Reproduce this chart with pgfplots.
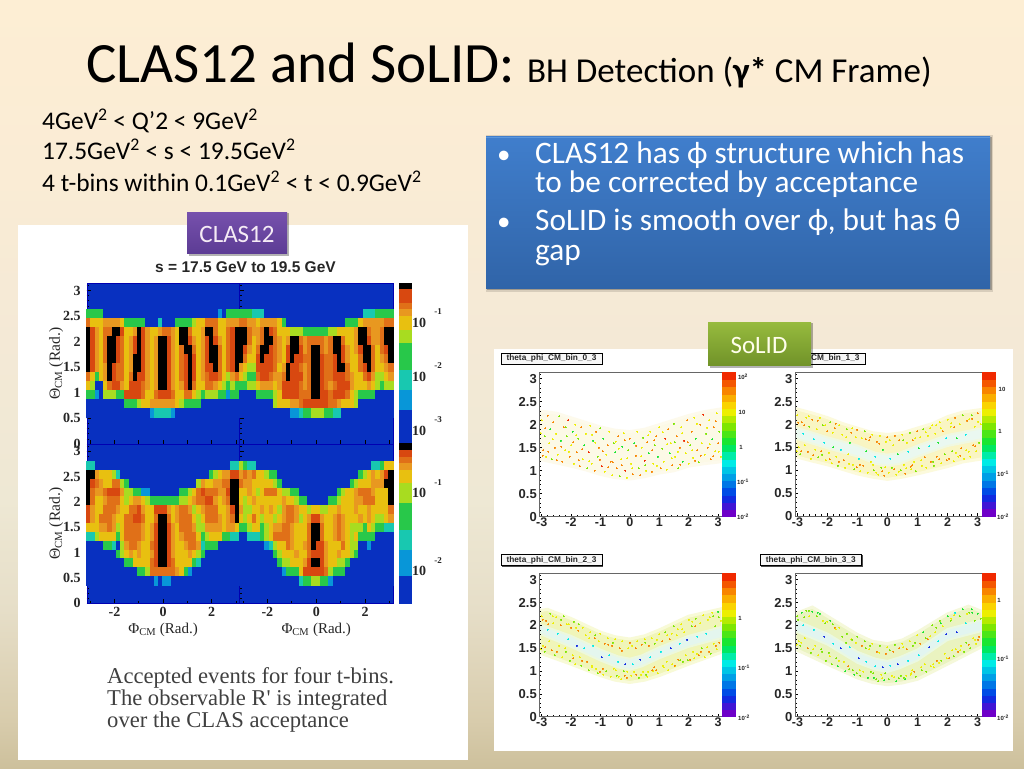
\documentclass[border=0pt]{standalone}
\usepackage{fontspec}
\usepackage{pgfplots}
\usepackage{pgfplotstable}
\pgfplotsset{compat=1.18}
\setmainfont{Carlito}
\newfontfamily\serf{Liberation Serif}
\newfontfamily\rootf{Liberation Sans}
\newcommand\fs[1]{\fontsize{#1}{#1}\selectfont}
\definecolor{clasblue}{RGB}{8,48,192}
\pgfdeclareverticalshading{slidebg}{100bp}{rgb(0bp)=(0.804,0.753,0.612); rgb(25bp)=(0.804,0.753,0.612); rgb(28.1bp)=(0.847,0.800,0.675); rgb(35.3bp)=(0.902,0.871,0.784); rgb(42.4bp)=(0.933,0.910,0.831); rgb(52.9bp)=(0.957,0.914,0.839); rgb(63.3bp)=(0.980,0.925,0.835); rgb(75bp)=(0.992,0.933,0.831); rgb(100bp)=(0.992,0.933,0.831)}
\pgfplotsset{
 colormap={clas}{rgb255=(8,48,192) rgb255=(8,150,216) rgb255=(24,200,176) rgb255=(40,200,74) rgb255=(168,220,32) rgb255=(232,192,16) rgb255=(232,152,32) rgb255=(224,112,24) rgb255=(216,72,16) rgb255=(0,0,0)},
 colormap={rootc}{rgb255=(110,0,200) rgb255=(0,50,230) rgb255=(0,150,230) rgb255=(0,240,230) rgb255=(0,230,60) rgb255=(120,230,0) rgb255=(250,240,0) rgb255=(250,150,0) rgb255=(240,40,0)},
 clasaxis/.style={scale only axis, axis on top, colormap name=clas, point meta min=0, point meta max=9,
   xmin=-3.1416,xmax=3.1416,ymin=0,ymax=3.1416, axis background/.style={fill=clasblue},
   axis line style={draw=black!30!blue, line width=0.4pt},
   tick style={black, line width=0.7pt}, major tick length=4pt, minor tick length=2pt,
   ytick={0,0.5,1,1.5,2,2.5,3}, minor ytick={0.1,0.2,...,3.1},
   xtick={-3,-2,-1,0,1,2,3}, minor xtick={},
   tick align=inside, xtick pos=bottom, ytick pos=left,
   ticklabel style={font=\serf\bfseries\fs{14}, text=black!85},
   yticklabel style={xshift=-2.5pt},
   xticklabels={}, yticklabels={},
   xlabel style={font=\serf\fs{15}, text=black!85},
   clip marker paths=false},
 clasy/.style={ylabel={Θ\textsubscript{CM} (Rad.)},
   every axis y label/.style={at={(axis description cs:-0.2,0.5)},rotate=90,anchor=center,font=\serf\fs{15.5},text=black!85}},
 heat/.style={scatter, only marks, mark=square*, mark size=2.25pt, point meta=explicit,
   mark options={yscale=2.05, line width=0pt},
   scatter/use mapped color={draw=mapped color,fill=mapped color}},
 cbar/.style={scale only axis, axis on top, xmin=0,xmax=1,ymin=0,axis x line=none, axis y line=none, clip=true},
 barm/.style={scatter, only marks, mark=square*, point meta=explicit,
   scatter/use mapped color={draw=mapped color,fill=mapped color}},
 solid/.style={scale only axis, axis on top, colormap name=rootc, point meta min=0, point meta max=19,
   xmin=-3.08,xmax=3.16,ymin=0,ymax=3.14,
   xtick={-3,-2,-1,0,1,2,3}, xticklabels={-3,-2,-1,0,1,2,3},
   ytick={0,0.5,1,1.5,2,2.5,3}, yticklabels={0,0.5,1,1.5,2,2.5,3},
   minor xtick={-2.8,-2.6,...,3}, minor ytick={0.1,0.2,...,3.1},
   tick align=inside, xtick pos=bottom, ytick pos=left,
   tick style={black, line width=0.5pt}, major tick length=3pt, minor tick length=1.5pt,
   axis line style={draw=black!60, line width=0.5pt},
   xticklabel style={font=\rootf\bfseries\fs{12.5}, text=black!85, yshift=2pt},
   yticklabel style={font=\rootf\bfseries\fs{13}, text=black!85, xshift=1pt}},
 dots/.style={scatter, only marks, mark=*, mark size=0.5pt, point meta=explicit,
   mark options={line width=0pt, opacity=0.7},
   scatter/use mapped color={draw=mapped color,fill=mapped color}},
}
\newcommand\heatmap[1]{\pgfplotsinvokeforeach{1,...,36}{\addplot[heat] table[x expr={-3.1416+(##1-0.5)*0.174533}, y index=0, meta index=##1]{#1};}}
% CLAS12 acceptance cells: theta, then 36 phi bins (colour level 0-9)
\pgfplotstableread[header=false]{
2.531 3 3 3 3 0 0 0 0 0 0 0 0 0 0 0 0 0 0 0 0 0 0 0 0 0 0 0 0 0 0 0 1 0 3 3 3
2.356 7 5 5 5 6 6 6 6 5 3 3 3 3 3 0 0 0 2 0 0 0 3 3 3 3 4 5 5 7 7 7 5 5 6 6 6
2.182 9 8 6 5 7 7 9 9 8 5 5 6 9 8 6 5 5 6 7 7 6 5 9 9 7 5 5 6 9 9 7 5 5 7 8 9
2.007 9 8 6 5 7 9 9 8 7 5 6 8 9 8 6 5 6 9 9 8 6 5 9 9 8 6 5 6 8 9 8 6 5 7 8 9
1.833 9 8 6 5 7 9 9 8 7 5 6 8 9 8 6 5 6 9 9 8 6 5 7 9 9 7 5 6 8 9 9 7 5 7 8 9
1.658 9 8 6 5 7 9 9 8 7 5 6 9 9 8 6 5 6 9 9 8 6 5 7 8 9 8 5 6 8 9 9 7 5 7 8 9
1.484 9 8 6 5 6 9 8 7 7 5 6 9 9 8 6 5 6 9 9 8 6 5 7 8 9 8 5 6 8 8 9 7 5 7 8 9
1.309 7 5 3 5 6 9 8 7 7 5 7 9 8 8 6 5 6 9 9 8 6 5 7 8 9 8 5 6 7 8 8 7 5 4 6 7
1.134 5 4 0 0 5 7 8 8 6 5 8 8 8 7 6 5 6 9 9 8 6 5 6 8 9 7 5 5 7 7 6 5 4 3 4 3
0.960 3 3 1 0 4 4 4 3 3 8 8 8 8 7 5 5 7 8 8 8 7 5 5 7 7 5 4 3 4 4 4 3 3 1 3 3
0.785 0 0 0 0 0 0 0 0 0 3 3 3 4 5 5 6 6 6 6 6 6 5 4 3 3 3 3 0 0 0 0 0 0 0 0 0
0.611 0 0 0 0 0 0 0 0 0 0 0 0 0 0 0 1 2 2 2 2 1 0 0 0 0 0 0 0 0 0 0 0 0 0 0 0
}\dataUL
\pgfplotstableread[header=false]{
2.531 3 3 3 2 2 2 0 0 0 0 0 0 0 0 0 0 0 0 0 0 0 0 0 0 0 0 0 0 0 2 2 2 3 3 3 3
2.356 7 7 6 6 5 6 6 6 6 5 3 0 0 0 0 0 0 0 0 0 0 0 0 0 0 3 3 3 5 6 6 6 6 6 7 7
2.182 9 9 7 6 6 7 9 8 7 5 5 5 4 4 4 3 3 3 3 3 3 4 4 5 5 5 5 6 9 9 7 6 6 7 9 9
2.007 9 9 7 5 6 7 9 9 7 6 5 6 9 9 7 6 7 7 7 7 6 7 9 9 7 5 5 6 9 9 8 6 6 7 9 9
1.833 9 8 6 5 7 9 9 8 7 6 5 8 9 9 8 6 7 9 9 7 6 7 9 9 8 6 5 6 8 9 9 7 5 7 8 9
1.658 9 7 5 5 8 9 8 8 7 6 5 8 9 8 8 7 7 9 9 8 7 7 8 9 8 6 5 5 7 9 9 7 5 6 7 9
1.484 6 5 4 4 8 8 8 8 7 5 6 9 8 8 7 6 7 9 9 8 7 7 8 9 9 7 5 5 7 8 9 7 5 5 6 7
1.309 5 4 3 3 7 8 8 7 6 6 7 9 8 8 8 6 7 9 9 8 7 7 8 8 8 7 6 5 5 7 8 6 4 4 5 6
1.134 3 3 4 4 5 6 6 6 5 6 8 8 8 8 7 6 7 9 9 8 7 6 7 8 8 8 6 5 5 5 6 5 4 3 4 4
0.960 0 0 0 0 3 3 3 3 4 5 8 8 8 8 7 7 7 9 9 8 8 7 8 8 8 7 5 4 3 3 3 3 0 0 0 0
0.785 0 0 0 0 0 0 0 0 4 5 5 5 6 6 7 8 8 8 8 8 8 7 7 6 5 5 5 4 0 0 0 0 0 0 0 0
0.611 0 0 0 0 0 0 0 0 0 0 0 0 1 1 2 3 3 4 4 4 3 3 2 2 0 0 0 0 0 0 0 0 0 0 0 0
}\dataUR
\pgfplotstableread[header=false]{
2.705 2 2 0 0 0 0 0 0 0 0 0 0 0 0 0 0 0 0 0 0 0 0 0 0 0 0 0 0 0 0 0 0 0 0 2 2
2.531 9 9 6 5 5 5 4 2 0 0 0 0 0 0 0 0 0 0 0 0 0 0 0 0 0 0 0 0 0 3 4 5 6 6 8 8
2.356 9 8 7 6 5 5 7 7 4 3 0 0 0 0 0 0 0 0 0 0 0 0 0 0 0 0 4 6 5 5 6 6 7 7 9 9
2.182 9 7 6 6 7 8 8 8 6 4 4 3 3 1 1 0 0 0 0 0 0 0 3 3 4 5 7 8 7 7 7 6 6 8 9 9
2.007 9 7 5 5 6 7 7 7 5 4 5 6 6 5 4 3 3 3 3 3 3 3 4 4 5 6 7 7 8 8 6 5 6 7 9 9
1.833 8 6 5 5 7 7 7 6 5 5 7 7 8 6 5 5 8 8 8 6 5 6 7 7 6 4 5 6 7 7 7 5 5 6 8 9
1.658 8 6 5 7 7 7 6 5 5 7 7 8 8 7 5 5 7 9 9 7 5 6 7 7 7 5 4 5 7 7 7 6 5 6 7 9
1.484 5 5 5 6 6 7 6 4 5 7 7 7 7 6 5 6 8 9 9 8 6 5 7 7 7 6 4 4 6 6 6 6 5 6 6 5
1.309 2 2 4 5 5 5 5 3 5 7 7 7 7 6 5 6 8 9 9 8 6 5 6 7 7 7 5 3 4 5 5 5 3 3 2 2
1.134 0 0 0 0 3 3 2 0 4 6 7 7 6 5 5 7 8 9 9 8 6 5 5 6 7 7 6 2 3 3 3 0 0 0 0 0
0.960 0 0 0 0 0 0 0 3 4 5 6 5 6 5 5 6 8 9 9 8 6 5 5 5 6 5 4 3 0 0 0 0 0 0 0 0
0.785 0 0 0 0 0 0 0 0 0 3 3 5 5 5 5 7 8 9 9 8 7 5 5 5 5 3 2 0 0 0 0 0 0 0 0 0
0.611 0 0 0 0 0 0 0 0 0 0 0 0 3 3 4 7 7 7 7 7 7 6 5 3 1 0 0 0 0 0 0 0 0 0 0 0
0.436 0 0 0 0 0 0 0 0 0 0 0 0 0 0 0 0 1 0 1 1 0 0 0 0 0 0 0 0 0 0 0 0 0 0 0 0
}\dataLL
\pgfplotstableread[header=false]{
2.705 4 3 2 2 0 0 0 0 0 0 0 0 0 0 0 0 0 0 0 0 0 0 0 0 0 0 0 0 0 0 0 2 2 3 5 5
2.531 6 7 6 7 5 5 4 3 3 0 0 0 0 0 0 0 0 0 0 0 0 0 0 0 0 0 0 0 3 4 5 6 5 6 8 9
2.356 7 6 6 5 5 5 5 5 4 3 0 0 0 0 0 0 0 0 0 0 0 0 0 0 0 0 3 4 5 5 5 6 6 6 9 9
2.182 5 5 6 5 4 5 7 7 7 5 4 4 3 3 0 0 0 0 0 0 0 0 0 3 4 5 5 6 7 7 7 6 5 5 5 9
2.007 5 4 5 6 5 5 5 5 5 5 6 5 5 4 3 3 0 0 0 0 0 3 3 4 5 5 5 6 6 7 7 7 5 5 5 9
1.833 6 4 4 5 5 6 5 6 5 4 6 7 7 6 5 5 4 5 5 4 4 5 5 6 5 5 5 6 5 5 6 5 5 5 5 7
1.658 5 4 5 7 5 4 5 5 4 5 6 7 7 6 4 5 6 8 8 6 5 5 6 7 6 5 5 5 6 5 6 5 4 4 5 6
1.484 3 3 4 5 5 3 4 5 6 6 7 7 6 5 5 5 7 9 9 7 5 5 6 7 6 5 4 4 4 3 5 4 3 3 2 2
1.309 0 0 2 2 2 3 4 5 7 7 7 7 6 5 5 5 7 9 9 7 5 5 6 7 6 5 4 5 3 3 3 3 0 0 0 0
1.134 0 0 0 0 0 0 1 2 4 5 5 7 6 5 5 6 7 9 8 8 6 5 5 5 7 5 4 4 0 0 1 0 0 0 0 0
0.960 0 0 0 0 0 0 0 0 3 4 5 5 5 6 5 5 7 8 8 8 6 5 5 6 5 5 4 3 0 0 0 0 0 0 0 0
0.785 0 0 0 0 0 0 0 0 0 3 4 4 5 5 5 6 8 9 9 8 6 5 5 4 4 3 0 0 0 0 0 0 0 0 0 0
0.611 0 0 0 0 0 0 0 0 0 0 1 3 3 3 5 8 8 8 8 8 7 4 3 3 3 0 0 0 0 0 0 0 0 0 0 0
0.436 0 0 0 0 0 0 0 0 0 0 0 0 0 0 2 3 3 4 4 3 3 1 0 0 0 0 0 0 0 0 0 0 0 0 0 0
}\dataLR
\pgfplotstableread{
y lev
23.5 9
22.5 8
21.5 8
20.5 7
19.5 6
18.5 5
17.5 5
16.5 4
15.5 4
14.5 3
13.5 3
12.5 3
11.5 3
10.5 2
9.5 2
8.5 2
7.5 1
6.5 1
5.5 1
4.5 0
3.5 0
2.5 0
1.5 0
0.5 0
}\barU
\pgfplotstableread{
y lev
23.5 9
22.5 8
21.5 7
20.5 6
19.5 5
18.5 5
17.5 4
16.5 4
15.5 4
14.5 3
13.5 3
12.5 3
11.5 3
10.5 2
9.5 2
8.5 2
7.5 1
6.5 1
5.5 1
4.5 1
3.5 0
2.5 0
1.5 0
0.5 0
}\barL
\pgfplotstableread{
y lev
0.5 0
1.5 1
2.5 2
3.5 3
4.5 4
5.5 5
6.5 6
7.5 7
8.5 8
9.5 9
10.5 10
11.5 11
12.5 12
13.5 13
14.5 14
15.5 15
16.5 16
17.5 17
18.5 18
19.5 19
}\barR
\newcommand\rootbar[4]{% x, ybottom(tikz), w, h
 \begin{axis}[cbar, at={(#1pt,#2pt)}, anchor=south west, width=#3pt, height=#4pt, ymax=20, colormap name=rootc, point meta min=0, point meta max=19]
 \addplot[barm, mark size=3.7pt, mark options={xscale=1.8,line width=0pt}] table[x expr=0.5, y=y, meta=lev]{\barR};
 \end{axis}}
\newcommand\roottitle[5]{\fill[black!70] (#1+1,{768-#4-1}) rectangle (#3+1,{768-#2-1});
 \draw[black,line width=0.7pt,fill=white!97!black] (#1,{768-#4}) rectangle (#3,{768-#2});
 \node[font=\rootf\bfseries\fs{8.3},text=black!85] at ({(#1+#3)/2},{768-(#2+#4)/2}) {#5};}
\newcommand\cblab[3]{\node[font=\rootf\bfseries\fs{6},text=black!85,inner sep=0] at (#1,{768-#2}) {#3};}
\begin{document}
\begin{tikzpicture}[x=1pt,y=1pt]
\useasboundingbox (0,0) rectangle (1024,768);
\shade[shading=slidebg] (0,0) rectangle (1024,768);
\fill[white] (18,8) rectangle (468,543);
\fill[white] (494,17) rectangle (1013,419);

% title
\node[anchor=base west,inner sep=0,text=black] at (86,685) {\fs{57}CLAS12 and SoLID:};
\node[anchor=base west,inner sep=0,text=black] at (527,685) {\fs{35}BH Detection (\textbf{γ*} CM Frame)};
\node[anchor=base west,inner sep=0,text=black] at (42,638) {\fs{25.4}4GeV\textsuperscript{2} < Q’2 < 9GeV\textsuperscript{2}};
\node[anchor=base west,inner sep=0,text=black] at (42,608) {\fs{25.4}17.5GeV\textsuperscript{2} < s < 19.5GeV\textsuperscript{2}};
\node[anchor=base west,inner sep=0,text=black] at (42,576) {\fs{25.4}4 t-bins within 0.1GeV\textsuperscript{2} < t < 0.9GeV\textsuperscript{2}};

% blue box
\fill[black,opacity=0.12] (486,476) rectangle (993,633);
\fill[black,opacity=0.25] (487,477.5) rectangle (991.5,631);
\shade[top color={rgb,255:red,64;green,126;blue,204}, bottom color={rgb,255:red,48;green,100;blue,168}] (486,479) rectangle (990,631);
\draw[draw={rgb,255:red,90;green,150;blue,220},line width=0.8pt] (486,631) -- (990,631);
\node[anchor=base west,inner sep=0,text=white] at (497,604) {\fs{27}•};
\node[anchor=base west,inner sep=0,text=white] at (535,604) {\fs{31.3}CLAS12 has ϕ structure which has};
\node[anchor=base west,inner sep=0,text=white] at (535,575) {\fs{31.3}to be corrected by acceptance};
\node[anchor=base west,inner sep=0,text=white] at (497,537) {\fs{27}•};
\node[anchor=base west,inner sep=0,text=white] at (535,537) {\fs{31.3}SoLID is smooth over ϕ, but has θ};
\node[anchor=base west,inner sep=0,text=white] at (535,507) {\fs{31.3}gap};

% CLAS12 figure
\node[font=\rootf\bfseries\fs{15.5},text=black!85] at (245.5,501) {s = 17.5 GeV to 19.5 GeV};
\begin{axis}[clasaxis, clasy, at={(86.7pt,324pt)}, anchor=south west, width=152.8pt, height=160.7pt,
  yticklabels={0,0.5,1,1.5,2,2.5,3}]
\heatmap{\dataUL}
\end{axis}
\begin{axis}[clasaxis, at={(239.5pt,324pt)}, anchor=south west, width=153.5pt, height=160.7pt]
\heatmap{\dataUR}
\end{axis}
\begin{axis}[clasaxis, clasy, at={(86.7pt,164.7pt)}, anchor=south west, width=152.8pt, height=159.3pt,
  xticklabels={-2,0,2}, xtick={-2,0,2}, minor xtick={-3,-1,1,3},
  yticklabels={0,0.5,1,1.5,2,2.5,3},
  xlabel={Φ\textsubscript{CM} (Rad.)}]
\heatmap{\dataLL}
\end{axis}
\begin{axis}[clasaxis, at={(239.5pt,164.7pt)}, anchor=south west, width=153.5pt, height=159.3pt,
  xticklabels={-2,0,2}, xtick={-2,0,2}, minor xtick={-3,-1,1,3}, xlabel={Φ\textsubscript{CM} (Rad.)}]
\heatmap{\dataLR}
\end{axis}
\begin{axis}[cbar, at={(400pt,324pt)}, anchor=south west, width=11pt, height=160.7pt, ymax=24, colormap name=clas, point meta min=0, point meta max=9]
\addplot[barm, mark size=3.5pt, mark options={xscale=1.7,line width=0pt}] table[x expr=0.5, y=y, meta=lev]{\barU};
\end{axis}
\begin{axis}[cbar, at={(400pt,164.7pt)}, anchor=south west, width=11pt, height=159.3pt, ymax=24, colormap name=clas, point meta min=0, point meta max=9]
\addplot[barm, mark size=3.5pt, mark options={xscale=1.7,line width=0pt}] table[x expr=0.5, y=y, meta=lev]{\barL};
\end{axis}
\foreach \yy/\tt in {323/-1,377/-2,431/-3}{
 \node[font=\serf\bfseries\fs{14},text=black!85,inner sep=0] at (419,{768-\yy}) {10};
 \node[font=\serf\bfseries\fs{9},text=black!85,inner sep=0] at (438,{768-\yy+11}) {\tt};}
\foreach \yy/\tt in {493/-1,571/-2}{
 \node[font=\serf\bfseries\fs{14},text=black!85,inner sep=0] at (419,{768-\yy}) {10};
 \node[font=\serf\bfseries\fs{9},text=black!85,inner sep=0] at (438,{768-\yy+10}) {\tt};}
\node[anchor=base west,inner sep=0,text=black!75,font=\serf\fs{22.6}] at (107,85) {Accepted events for four t-bins.};
\node[anchor=base west,inner sep=0,text=black!75,font=\serf\fs{22.6}] at (107,63) {The observable R' is integrated};
\node[anchor=base west,inner sep=0,text=black!75,font=\serf\fs{22.6}] at (107,41) {over the CLAS acceptance};

% SoLID panels
\begin{axis}[solid, at={(539.3pt,251.3pt)}, anchor=south west, width=183.4pt, height=144.4pt]
\addplot[draw={rgb,255:red,253;green,250;blue,236},line width=3pt,fill={rgb,255:red,252;green,249;blue,230},forget plot] coordinates {(-3.08,2.3)(-2.5,2.25)(-2,2.15)(-1.5,2.05)(-1,1.95)(-0.5,1.88)(0,1.85)(0.5,1.9)(1,2.0)(1.5,2.1)(2,2.2)(2.5,2.28)(3.16,2.35)(3.16,1.2)(2.5,1.15)(2,1.1)(1.5,1.0)(1,0.95)(0.5,0.87)(0,0.82)(-0.5,0.85)(-1,0.92)(-1.5,1.02)(-2,1.1)(-2.5,1.17)(-3.08,1.25)} -- cycle;
\addplot[dots] coordinates {
(-3.0,2.1)[14](-2.95,1.45)[17](-2.9,1.75)[12](-2.85,1.3)[14](-2.8,2.2)[17](-2.75,1.6)[14](-2.7,1.9)[10](-2.65,1.25)[12](-2.6,2.05)[17](-2.55,1.5)[17]
(-2.5,1.8)[14](-2.45,1.35)[14](-2.4,2.18)[12](-2.35,1.65)[10](-2.3,1.2)[17](-2.25,1.95)[17](-2.2,1.45)[14](-2.15,1.75)[12](-2.1,2.1)[19](-2.05,1.3)[17]
(-2.0,1.55)[14](-1.95,1.85)[10](-1.9,1.15)[14](-1.85,2.0)[14](-1.8,1.4)[17](-1.75,1.7)[12](-1.7,1.1)[17](-1.65,1.95)[17](-1.6,1.25)[14](-1.55,1.55)[10]
(-1.5,1.8)[14](-1.45,1.05)[12](-1.4,1.4)[19](-1.35,1.98)[14](-1.3,1.15)[14](-1.25,1.65)[10](-1.2,1.0)[17](-1.15,1.85)[17](-1.1,1.3)[12](-1.05,1.5)[17]
(-1.0,1.92)[12](-0.95,1.1)[19](-0.9,1.7)[10](-0.85,0.98)[14](-0.8,1.35)[14](-0.75,1.55)[17](-0.7,1.85)[14](-0.65,1.2)[17](-0.6,0.9)[14](-0.55,1.6)[12]
(-0.5,1.4)[10](-0.45,1.05)[17](-0.4,1.75)[17](-0.35,0.88)[12](-0.3,1.25)[14](-0.25,1.52)[10](-0.2,1.82)[14](-0.15,1.0)[19](-0.1,0.85)[14](-0.05,1.45)[12]
(0.0,1.7)[17](0.05,1.15)[14](0.1,0.92)[17](0.15,1.6)[10](0.2,1.32)[17](0.25,1.85)[14](0.3,1.05)[12](0.35,0.9)[17](0.4,1.5)[14](0.45,1.72)[12]
(0.5,1.22)[19](0.55,1.0)[14](0.6,1.62)[17](0.65,1.38)[10](0.7,1.85)[14](0.75,0.98)[17](0.8,1.15)[14](0.85,1.55)[12](0.9,1.75)[17](0.95,1.3)[10]
(1.0,1.95)[14](1.05,1.05)[17](1.1,1.48)[12](1.15,1.2)[14](1.2,1.7)[19](1.25,1.02)[14](1.3,1.9)[17](1.35,1.38)[10](1.4,1.6)[14](1.45,1.12)[17]
(1.5,2.02)[12](1.55,1.3)[14](1.6,1.75)[17](1.65,1.05)[12](1.7,1.5)[17](1.75,1.95)[14](1.8,1.2)[10](1.85,1.65)[19](1.9,1.38)[14](1.95,2.1)[17]
(2.0,1.15)[14](2.05,1.55)[12](2.1,1.85)[17](2.15,1.28)[14](2.2,2.15)[14](2.25,1.7)[10](2.3,1.45)[17](2.35,1.18)[12](2.4,2.0)[17](2.45,1.6)[14]
(2.5,2.22)[19](2.55,1.35)[14](2.6,1.8)[12](2.65,1.5)[17](2.7,2.1)[14](2.75,1.25)[17](2.8,1.68)[10](2.85,1.95)[17](2.9,1.42)[14](2.95,2.25)[14](3.0,1.6)[17](3.05,1.85)[12](3.1,1.3)[14]
(-2.87,1.92)[17](1.63,1.41)[14](-0.27,1.12)[17](2.72,1.57)[14](-1.62,1.47)[17](0.38,1.31)[14](-2.33,1.52)[17](1.12,1.84)[14](-0.73,1.07)[17](2.28,2.02)[14]
(-1.17,1.61)[14](0.77,1.44)[17](-2.62,1.68)[14](1.97,1.62)[17](-0.08,1.27)[14](2.92,2.08)[17](-1.83,1.77)[14](0.53,1.12)[12](-2.97,1.33)[17](1.42,1.27)[14]
(-0.48,1.63)[14](2.42,1.33)[17](-1.38,1.21)[14](0.22,1.54)[17](-2.18,1.94)[12](1.78,1.82)[14](-0.92,1.42)[17](2.63,1.93)[14](-1.73,1.23)[17](0.92,1.11)[14]
(-2.48,1.23)[17](1.27,1.58)[14](-0.17,1.66)[17](3.02,1.41)[14](-1.02,1.24)[17](0.63,1.77)[14](-2.77,1.41)[17](2.13,1.44)[14](-0.58,1.18)[17](1.53,1.62)[12]
(-1.93,1.62)[17](0.08,1.05)[14](2.83,1.31)[17](-1.28,1.78)[14](0.83,1.66)[17](-2.07,1.41)[14](2.22,1.22)[17](-0.38,1.48)[14](1.72,1.13)[17](-3.03,1.82)[14]};
\end{axis}
\begin{axis}[solid, at={(795pt,252pt)}, anchor=south west, width=187.3pt, height=143.7pt]
\addplot[draw={rgb,255:red,252;green,250;blue,220},line width=3pt,fill={rgb,255:red,249;green,245;blue,195},forget plot] coordinates {(-3.08,2.35)(-2.5,2.25)(-2,2.15)(-1.5,2.02)(-1,1.92)(-0.5,1.82)(0,1.78)(0.5,1.82)(1,1.92)(1.5,2.02)(2,2.17)(2.5,2.27)(3.16,2.33)(3.16,1.25)(2.5,1.18)(2,1.08)(1.5,1.0)(1,0.92)(0.5,0.85)(0,0.8)(-0.5,0.85)(-1,0.92)(-1.5,1.02)(-2,1.12)(-2.5,1.2)(-3.08,1.3)} -- cycle;
\addplot[draw={rgb,255:red,240;green,248;blue,225},line width=2pt,fill={rgb,255:red,234;green,248;blue,240},forget plot] coordinates {(-3.08,1.94)(-2,1.72)(-1,1.54)(-0.4,1.38)(0,1.34)(0.4,1.38)(1,1.54)(2,1.77)(3.16,1.92)(3.16,1.68)(2,1.53)(1,1.3)(0.4,1.14)(0,1.1)(-0.4,1.14)(-1,1.3)(-2,1.48)(-3.08,1.7)} -- cycle;
\addplot[dots] coordinates {
(-3.0,2.2)[14](-2.95,1.5)[14](-2.9,1.35)[12](-2.85,2.05)[17](-2.8,1.8)[7](-2.75,1.55)[14](-2.7,2.15)[14](-2.65,1.4)[17](-2.6,1.95)[12](-2.55,1.25)[14]
(-2.5,2.1)[17](-2.45,1.68)[7](-2.4,1.45)[14](-2.35,1.9)[14](-2.3,1.28)[12](-2.25,2.15)[14](-2.2,1.42)[17](-2.15,1.98)[12](-2.1,1.6)[7](-2.05,1.22)[14]
(-2.0,1.85)[17](-1.95,1.38)[14](-1.9,2.05)[12](-1.85,1.15)[14](-1.8,1.5)[10](-1.75,1.92)[17](-1.7,1.3)[14](-1.65,1.1)[12](-1.6,1.98)[14](-1.55,1.45)[7]
(-1.5,1.78)[14](-1.45,1.22)[17](-1.4,1.05)[14](-1.35,1.9)[12](-1.3,1.35)[14](-1.25,1.6)[10](-1.2,1.82)[17](-1.15,1.12)[14](-1.1,1.02)[12](-1.05,1.72)[14]
(-1.0,1.88)[17](-0.95,1.25)[7](-0.9,0.98)[14](-0.85,1.7)[14](-0.8,1.1)[17](-0.75,1.85)[12](-0.7,1.42)[10](-0.65,0.95)[14](-0.6,1.65)[17](-0.55,1.18)[14]
(-0.5,1.78)[14](-0.45,1.0)[12](-0.4,1.3)[7](-0.35,1.62)[17](-0.3,0.9)[14](-0.25,1.75)[14](-0.2,1.05)[12](-0.15,1.45)[10](-0.1,0.88)[17](-0.05,1.62)[14]
(0.0,1.72)[17](0.05,0.95)[14](0.1,1.25)[7](0.15,1.05)[12](0.2,1.55)[14](0.25,1.75)[17](0.3,0.9)[14](0.35,1.35)[10](0.4,1.65)[17](0.45,1.0)[12]
(0.5,1.78)[14](0.55,1.12)[14](0.6,0.92)[17](0.65,1.6)[14](0.7,1.4)[7](0.75,1.82)[12](0.8,1.02)[14](0.85,1.65)[17](0.9,1.18)[14](0.95,0.98)[12]
(1.0,1.85)[17](1.05,1.48)[10](1.1,1.72)[14](1.15,1.1)[14](1.2,1.9)[12](1.25,1.28)[17](1.3,1.05)[14](1.35,1.75)[14](1.4,1.52)[7](1.45,1.18)[17]
(1.5,1.98)[14](1.55,1.1)[12](1.6,1.8)[14](1.65,1.3)[17](1.7,1.6)[10](1.75,2.05)[14](1.8,1.15)[14](1.85,1.85)[17](1.9,1.35)[12](1.95,1.7)[7]
(2.0,2.1)[14](2.05,1.25)[17](2.1,1.95)[14](2.15,1.42)[12](2.2,1.2)[14](2.25,2.15)[17](2.3,1.7)[10](2.35,1.3)[14](2.4,2.0)[14](2.45,1.48)[17]
(2.5,2.2)[12](2.55,1.25)[14](2.6,1.78)[7](2.65,2.08)[17](2.7,1.4)[14](2.75,1.3)[14](2.8,2.2)[12](2.85,1.55)[17](2.9,1.95)[14](2.95,1.42)[14](3.0,2.25)[17](3.05,1.6)[12](3.1,2.0)[14]
(-2.87,1.42)[17](1.63,1.98)[14](-0.27,1.58)[17](2.72,2.11)[14](-1.62,1.18)[17](0.38,0.97)[14](-2.33,2.08)[17](1.12,1.22)[14](-0.73,1.68)[17](2.28,1.38)[14]
(-1.17,1.92)[14](0.77,1.08)[17](-2.62,2.18)[14](1.97,1.22)[17](-0.08,1.06)[14](2.92,1.52)[17](-1.83,1.82)[14](0.53,1.66)[12](-2.97,2.04)[17](1.42,1.92)[14]
(-0.48,1.12)[14](2.42,1.32)[17](-1.38,1.72)[14](0.22,1.02)[17](-2.18,1.34)[12](1.78,1.92)[14](-0.92,1.12)[17](2.63,1.44)[14](-1.73,2.02)[17](0.92,1.7)[14]
(-2.48,1.33)[17](1.27,1.83)[14](-0.17,0.98)[17](3.02,2.06)[14](-1.02,1.06)[17](0.63,1.04)[14](-2.77,1.98)[17](2.13,2.03)[14](-0.58,1.72)[17](1.53,1.18)[12]
(-1.93,1.24)[17](0.08,1.66)[14](2.83,2.12)[17](-1.28,1.14)[14](0.83,1.11)[17](-2.07,1.98)[14](2.22,1.94)[17](-0.38,0.95)[14](1.72,1.24)[17](-3.03,1.42)[14]};
\end{axis}
\begin{axis}[solid, at={(539.3pt,51.3pt)}, anchor=south west, width=183.4pt, height=143.4pt]
\addplot[draw={rgb,255:red,248;green,250;blue,215},line width=3pt,fill={rgb,255:red,240;green,245;blue,185},forget plot] coordinates {(-3.08,2.32)(-2.8,2.35)(-2,2.15)(-1,1.85)(-0.5,1.75)(0,1.7)(0.5,1.77)(1,1.9)(2,2.2)(3.16,2.37)(3.16,1.42)(2,1.15)(1,0.9)(0.5,0.8)(0,0.75)(-0.5,0.8)(-1,0.9)(-2,1.15)(-3.08,1.4)} -- cycle;
\addplot[draw={rgb,255:red,236;green,248;blue,222},line width=2pt,fill={rgb,255:red,228;green,246;blue,238},forget plot] coordinates {(-3.08,2.02)(-2,1.77)(-1,1.47)(-0.4,1.32)(0,1.27)(0.4,1.34)(1,1.52)(2,1.77)(3.16,1.97)(3.16,1.73)(2,1.53)(1,1.28)(0.4,1.1)(0,1.03)(-0.4,1.08)(-1,1.23)(-2,1.53)(-3.08,1.82)} -- cycle;
\addplot[dots] coordinates {
(-3.0,2.2)[14](-2.95,1.55)[14](-2.9,1.42)[12](-2.85,2.1)[17](-2.8,1.9)[7](-2.75,1.65)[14](-2.7,2.25)[12](-2.65,1.45)[17](-2.6,2.05)[14](-2.55,1.35)[12]
(-2.5,2.18)[14](-2.45,1.82)[7](-2.4,1.55)[14](-2.35,2.0)[17](-2.3,1.3)[14](-2.25,2.2)[12](-2.2,1.5)[14](-2.15,2.02)[14](-2.1,1.7)[7](-2.05,1.22)[12]
(-2.0,1.95)[17](-1.95,1.35)[14](-1.9,2.08)[12](-1.85,1.15)[14](-1.8,1.55)[2](-1.75,1.88)[17](-1.7,1.3)[14](-1.65,1.12)[12](-1.6,1.95)[14](-1.55,1.5)[7]
(-1.5,1.78)[14](-1.45,1.2)[17](-1.4,1.02)[12](-1.35,1.85)[14](-1.3,1.12)[14](-1.25,1.55)[7](-1.2,1.72)[17](-1.15,1.05)[14](-1.1,0.95)[12](-1.05,1.65)[14]
(-1.0,1.82)[14](-0.95,1.3)[2](-0.9,0.92)[14](-0.85,1.6)[17](-0.8,1.0)[12](-0.75,1.72)[14](-0.7,1.35)[7](-0.65,0.88)[14](-0.6,1.55)[17](-0.55,1.05)[14]
(-0.5,1.7)[14](-0.45,0.9)[12](-0.4,1.2)[7](-0.35,1.5)[17](-0.3,0.82)[14](-0.25,1.65)[14](-0.2,1.0)[12](-0.15,1.15)[2](-0.1,0.85)[17](-0.05,1.5)[14]
(0.0,1.62)[17](0.05,0.9)[14](0.1,1.15)[7](0.15,0.98)[14](0.2,1.5)[17](0.25,1.65)[14](0.3,0.85)[12](0.35,1.25)[2](0.4,1.58)[17](0.45,0.98)[14]
(0.5,1.7)[14](0.55,0.92)[12](0.6,0.88)[14](0.65,1.55)[17](0.7,1.3)[7](0.75,1.72)[14](0.8,1.0)[14](0.85,1.6)[12](0.9,1.02)[17](0.95,0.95)[14]
(1.0,1.8)[14](1.05,1.42)[7](1.1,1.65)[17](1.15,1.08)[14](1.2,1.85)[12](1.25,1.2)[14](1.3,1.02)[14](1.35,1.7)[17](1.4,1.5)[2](1.45,1.15)[14]
(1.5,1.98)[12](1.55,1.1)[14](1.6,1.78)[14](1.65,1.25)[17](1.7,1.6)[7](1.75,2.02)[14](1.8,1.2)[12](1.85,1.85)[14](1.9,1.35)[14](1.95,1.68)[2]
(2.0,2.12)[14](2.05,1.25)[17](2.1,1.98)[12](2.15,1.42)[14](2.2,1.28)[14](2.25,2.15)[12](2.3,1.75)[7](2.35,1.35)[17](2.4,2.05)[14](2.45,1.5)[12]
(2.5,2.22)[14](2.55,1.3)[14](2.6,1.82)[7](2.65,2.12)[14](2.7,1.42)[17](2.75,1.38)[12](2.8,2.28)[14](2.85,1.6)[14](2.9,1.98)[12](2.95,1.48)[14](3.0,2.3)[10](3.05,1.62)[17](3.1,2.1)[14]
(-2.87,1.52)[17](1.63,1.92)[14](-0.27,1.44)[17](2.72,2.18)[14](-1.62,1.22)[17](0.38,0.92)[14](-2.33,2.12)[12](1.12,1.12)[14](-0.73,1.58)[17](2.28,1.38)[14]
(-1.17,1.78)[12](0.77,1.02)[17](-2.62,2.2)[14](1.97,1.24)[12](-0.08,0.98)[14](2.92,1.55)[17](-1.83,1.95)[14](0.53,1.62)[12](-2.97,2.12)[17](1.42,1.82)[14]
(-0.48,1.02)[14](2.42,1.42)[17](-1.38,1.72)[14](0.22,0.92)[17](-2.18,1.42)[12](1.78,1.92)[14](-0.92,1.05)[17](2.63,1.52)[14](-1.73,2.02)[12](0.92,1.68)[14]
(-2.48,1.42)[17](1.27,1.78)[14](-0.17,0.9)[17](3.02,2.18)[12](-1.02,0.98)[17](0.63,0.98)[14](-2.77,2.02)[17](2.13,2.08)[14](-0.58,1.62)[12](1.53,1.12)[17]
(-1.93,1.28)[17](0.08,1.55)[14](2.83,2.2)[12](-1.28,1.08)[14](0.83,1.08)[17](-2.07,2.02)[14](2.22,1.98)[17](-0.38,0.88)[14](1.72,1.24)[12](-3.03,1.48)[14]};
\end{axis}
\begin{axis}[solid, at={(795pt,51.3pt)}, anchor=south west, width=187.3pt, height=143.4pt]
\addplot[draw={rgb,255:red,245;green,248;blue,218},line width=3pt,fill={rgb,255:red,234;green,243;blue,192},forget plot] coordinates {(-3.08,2.25)(-2.5,2.4)(-2,2.2)(-1,1.8)(-0.5,1.65)(0,1.6)(0.5,1.68)(1,1.85)(2,2.25)(2.7,2.42)(3.16,2.3)(3.16,1.54)(2,1.15)(1,0.82)(0.5,0.74)(0,0.7)(-0.5,0.75)(-1,0.85)(-2,1.15)(-3.08,1.48)} -- cycle;
\addplot[draw={rgb,255:red,234;green,248;blue,226},line width=2pt,fill={rgb,255:red,226;green,245;blue,240},forget plot] coordinates {(-3.08,2.12)(-2,1.82)(-1,1.42)(-0.4,1.27)(0,1.22)(0.4,1.3)(1,1.47)(2,1.92)(3.16,2.12)(3.16,1.88)(2,1.68)(1,1.23)(0.4,1.06)(0,0.98)(-0.4,1.03)(-1,1.18)(-2,1.58)(-3.08,1.88)} -- cycle;
\addplot[dots] coordinates {
(-3.0,2.2)[12](-2.95,1.65)[14](-2.9,1.55)[12](-2.85,2.28)[10](-2.8,2.0)[7](-2.75,1.72)[14](-2.7,2.32)[12](-2.65,1.5)[17](-2.6,2.2)[14](-2.55,1.4)[12]
(-2.5,2.3)[10](-2.45,1.9)[7](-2.4,1.55)[14](-2.35,2.2)[12](-2.3,1.35)[14](-2.25,2.25)[10](-2.2,1.48)[12](-2.15,2.1)[14](-2.1,1.75)[2](-2.05,1.22)[12]
(-2.0,2.08)[14](-1.95,1.4)[12](-1.9,2.1)[10](-1.85,1.15)[12](-1.8,1.6)[7](-1.75,1.95)[17](-1.7,1.28)[12](-1.65,1.1)[10](-1.6,1.95)[14](-1.55,1.5)[2]
(-1.5,1.75)[12](-1.45,1.2)[14](-1.4,1.0)[10](-1.35,1.82)[12](-1.3,1.1)[17](-1.25,1.52)[7](-1.2,1.7)[14](-1.15,1.02)[12](-1.1,0.92)[10](-1.05,1.62)[14]
(-1.0,1.75)[12](-0.95,1.28)[2](-0.9,0.9)[12](-0.85,1.55)[17](-0.8,0.98)[14](-0.75,1.65)[12](-0.7,1.2)[7](-0.65,0.85)[10](-0.6,1.48)[14](-0.55,0.98)[12]
(-0.5,1.6)[14](-0.45,0.85)[10](-0.4,1.1)[7](-0.35,1.42)[17](-0.3,0.78)[12](-0.25,1.55)[12](-0.2,0.92)[14](-0.15,1.08)[2](-0.1,0.8)[10](-0.05,1.38)[17]
(0.0,1.52)[14](0.05,0.82)[12](0.1,1.12)[7](0.15,0.9)[14](0.2,1.42)[17](0.25,1.58)[12](0.3,0.78)[10](0.35,1.15)[2](0.4,1.5)[17](0.45,0.9)[12]
(0.5,1.6)[14](0.55,0.85)[12](0.6,0.82)[10](0.65,1.48)[17](0.7,1.22)[7](0.75,1.65)[14](0.8,0.95)[14](0.85,1.55)[12](0.9,0.98)[17](0.95,0.88)[12]
(1.0,1.78)[14](1.05,1.35)[7](1.1,1.6)[17](1.15,1.02)[12](1.2,1.85)[10](1.25,1.15)[14](1.3,0.98)[12](1.35,1.7)[17](1.4,1.52)[2](1.45,1.1)[14]
(1.5,2.0)[12](1.55,1.08)[14](1.6,1.85)[14](1.65,1.22)[17](1.7,1.65)[7](1.75,2.1)[12](1.8,1.22)[12](1.85,1.98)[14](1.9,1.38)[14](1.95,1.8)[2]
(2.0,2.2)[10](2.05,1.28)[17](2.1,2.1)[12](2.15,1.45)[14](2.2,1.32)[12](2.25,2.28)[7](2.3,1.85)[2](2.35,1.42)[17](2.4,2.2)[12](2.45,1.55)[14]
(2.5,2.35)[10](2.55,1.42)[12](2.6,2.05)[7](2.65,2.25)[14](2.7,1.58)[17](2.75,1.5)[12](2.8,2.35)[10](2.85,1.72)[14](2.9,2.1)[12](2.95,1.6)[14](3.0,2.25)[10](3.05,1.75)[17](3.1,2.15)[12]
(-2.87,1.62)[14](1.63,1.95)[12](-0.27,1.4)[14](2.72,2.28)[12](-1.62,1.22)[14](0.38,0.84)[12](-2.33,2.28)[10](1.12,1.08)[14](-0.73,1.5)[12](2.28,1.48)[14]
(-1.17,1.68)[12](0.77,0.92)[14](-2.62,2.32)[12](1.97,1.28)[14](-0.08,0.95)[12](2.92,1.68)[14](-1.83,2.02)[12](0.53,1.52)[14](-2.97,2.12)[12](1.42,1.76)[14]
(-0.48,0.95)[12](2.42,1.45)[14](-1.38,1.62)[12](0.22,0.86)[14](-2.18,1.42)[12](1.78,2.05)[10](-0.92,1.02)[14](2.63,1.62)[12](-1.73,1.92)[14](0.92,1.62)[12]
(-2.48,1.48)[14](1.27,1.72)[12](-0.17,0.84)[14](3.02,1.68)[17](-1.02,0.95)[12](0.63,0.9)[14](-2.77,2.18)[12](2.13,2.15)[14](-0.58,1.55)[12](1.53,1.15)[14]
(-1.93,1.32)[14](0.08,1.45)[12](2.83,2.28)[10](-1.28,1.04)[12](0.83,1.02)[14](-2.07,2.05)[12](2.22,2.22)[14](-0.38,0.82)[12](1.72,1.18)[14](-3.03,1.58)[14]};
\end{axis}
\rootbar{722.7}{251.3}{13}{144.4}
\rootbar{982.3}{252}{13}{143.7}
\rootbar{722.7}{51.3}{13}{143.4}
\rootbar{982.3}{51.3}{13}{143.4}
\cblab{743}{377}{10\textsuperscript{2}}\cblab{742}{412}{10}\cblab{741}{447}{1}\cblab{743}{482}{10\textsuperscript{-1}}\cblab{743}{516.7}{10\textsuperscript{-2}}
\cblab{1002}{389}{10}\cblab{1000}{431}{1}\cblab{1003}{474}{10\textsuperscript{-1}}\cblab{1003}{516.7}{10\textsuperscript{-2}}
\cblab{740}{618}{1}\cblab{744}{668}{10\textsuperscript{-1}}\cblab{744}{717.7}{10\textsuperscript{-2}}
\cblab{999}{600}{1}\cblab{1003}{659}{10\textsuperscript{-1}}\cblab{1003}{717.7}{10\textsuperscript{-2}}
\roottitle{501}{353}{602}{364}{theta\_phi\_CM\_bin\_0\_3}
\roottitle{764}{353}{865}{364}{theta\_phi\_CM\_bin\_1\_3}
\roottitle{501}{554.3}{602}{565.7}{theta\_phi\_CM\_bin\_2\_3}
\roottitle{760}{554.3}{861.7}{565.7}{theta\_phi\_CM\_bin\_3\_3}

% labels
\fill[black,opacity=0.3] (189,512) rectangle (289,555);
\shade[top color={rgb,255:red,118;green,80;blue,172}, bottom color={rgb,255:red,92;green,60;blue,148}] (187,514) rectangle (287,555);
\node[text=white!92!violet] at (237,534) {\fs{25}CLAS12};
\fill[black,opacity=0.3] (710,400) rectangle (813,445);
\shade[top color={rgb,255:red,150;green,186;blue,62}, bottom color={rgb,255:red,112;green,146;blue,40}] (708,402) rectangle (811,445);
\node[text=white!92!yellow] at (759,423) {\fs{25}SoLID};
\end{tikzpicture}
\end{document}
